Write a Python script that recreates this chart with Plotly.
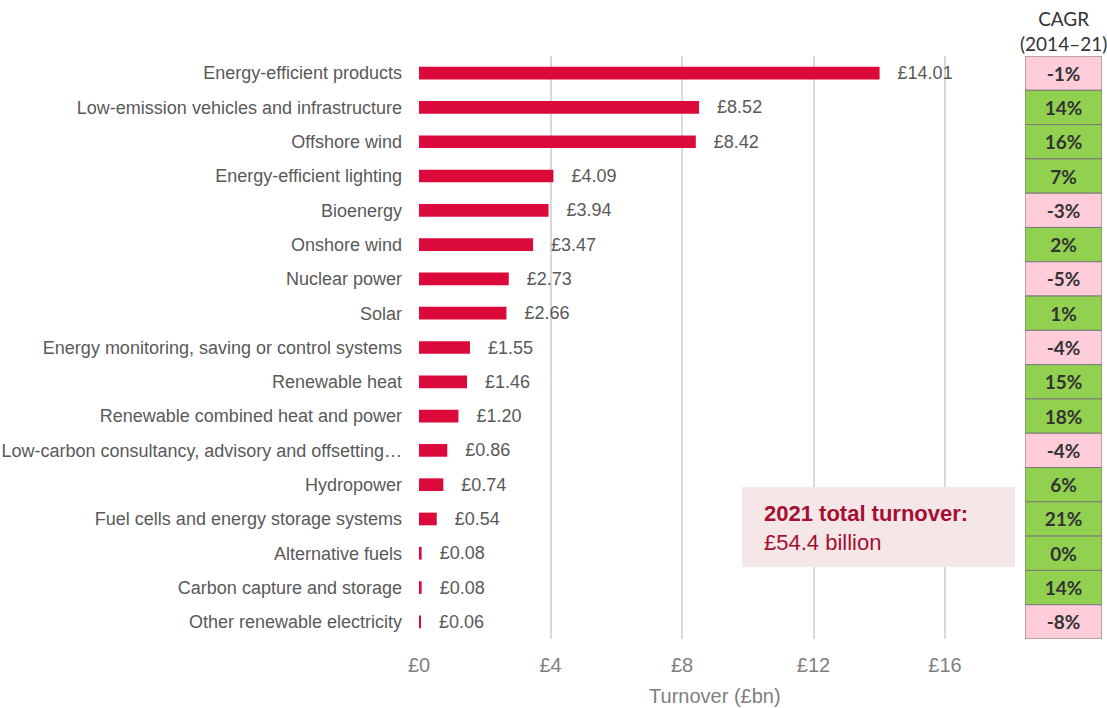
import plotly.graph_objects as go

categories = [
    "Energy-efficient products",
    "Low-emission vehicles and infrastructure",
    "Offshore wind",
    "Energy-efficient lighting",
    "Bioenergy",
    "Onshore wind",
    "Nuclear power",
    "Solar",
    "Energy monitoring, saving or control systems",
    "Renewable heat",
    "Renewable combined heat and power",
    "Low-carbon consultancy, advisory and offsetting…",
    "Hydropower",
    "Fuel cells and energy storage systems",
    "Alternative fuels",
    "Carbon capture and storage",
    "Other renewable electricity",
]
turnover_bn = [14.01, 8.52, 8.42, 4.09, 3.94, 3.47, 2.73, 2.66, 1.55, 1.46,
               1.20, 0.86, 0.74, 0.54, 0.08, 0.08, 0.06]
cagr_pct = [-1, 14, 16, 7, -3, 2, -5, 1, -4, 15, 18, -4, 6, 21, 0, 14, -8]
x_ticks = [0, 4, 8, 12, 16]

BAR = "#dc0a3b"
GREEN = "#92d050"
PINK = "#ffccd9"
NB = "\u00a0"
SANS = "Arial"

fig = go.Figure()
fig.add_trace(go.Bar(
    y=categories, x=turnover_bn, orientation="h",
    marker=dict(color=BAR, line=dict(width=0)),
    width=0.37,
    text=[f"{NB*3}£{v:.2f}" for v in turnover_bn],
    textposition="outside",
    constraintext="none",
    textfont=dict(family=SANS, size=18, color="#595959"),
    cliponaxis=False,
    hoverinfo="skip",
))
fig.add_trace(go.Bar(
    y=categories, x=[1] * len(categories), orientation="h",
    xaxis="x2", yaxis="y",
    width=1,
    marker=dict(color=[GREEN if c >= 0 else PINK for c in cagr_pct],
                line=dict(color="#7a7a7a", width=1)),
    text=[f"<b>{c}%</b>" for c in cagr_pct],
    textposition="inside", insidetextanchor="middle",
    textangle=0,
    textfont=dict(family="Lato, Open Sans", size=19, color="#333333"),
    hoverinfo="skip",
))

fig.update_layout(
    width=1107, height=708,
    margin=dict(l=0, r=0, t=56, b=69),
    plot_bgcolor="white", paper_bgcolor="white",
    barmode="overlay",
    showlegend=False,
    font=dict(family=SANS, color="#595959"),
    xaxis=dict(
        domain=[419 / 1107, 1010.75 / 1107],
        range=[0, 18],
        tickvals=x_ticks,
        ticktext=[f"£{t}" for t in x_ticks],
        tickfont=dict(family=SANS, size=20, color="#7f7f7f"),
        showgrid=True, gridcolor="#d9d9d9", gridwidth=2,
        zeroline=False, showline=False,
        ticks="", ticklabelstandoff=12,
        title=dict(text="Turnover (£bn)", font=dict(family=SANS, size=20, color="#7f7f7f"), standoff=13),
        automargin=False,
    ),
    xaxis2=dict(
        domain=[1025 / 1107, 1102 / 1107],
        range=[0, 1], anchor="y",
        showgrid=False, zeroline=False, showline=False, showticklabels=False,
    ),
    yaxis=dict(
        categoryorder="array", categoryarray=categories,
        autorange="reversed",
        tickfont=dict(family=SANS, size=18, color="#595959"),
        showgrid=False, zeroline=False, showline=False,
        ticks="", ticklabelstandoff=16,
        automargin=False,
    ),
)

fig.add_annotation(
    xref="x2 domain", yref="paper", x=0.5, y=1, yanchor="bottom", yshift=-1,
    text="CAGR<br>(2014–21)", showarrow=False, align="center",
    font=dict(family="Lato, Open Sans", size=19, color="#333333"),
)

# total turnover callout
fig.add_shape(type="rect", xref="paper", yref="paper",
              x0=742 / 1107, x1=1015 / 1107,
              y0=(639 - 567) / 583, y1=(639 - 487) / 583,
              fillcolor="#f5e6e8", line=dict(width=0), layer="above")
fig.add_annotation(
    xref="paper", yref="paper", x=762 / 1107, y=(639 - 528) / 583,
    xanchor="left", yanchor="middle", align="left", showarrow=False,
    text="<b>2021 total turnover:</b><br>£54.4 billion",
    font=dict(family=SANS, size=22, color="#a50f32"),
)

fig.write_html("out.html")
